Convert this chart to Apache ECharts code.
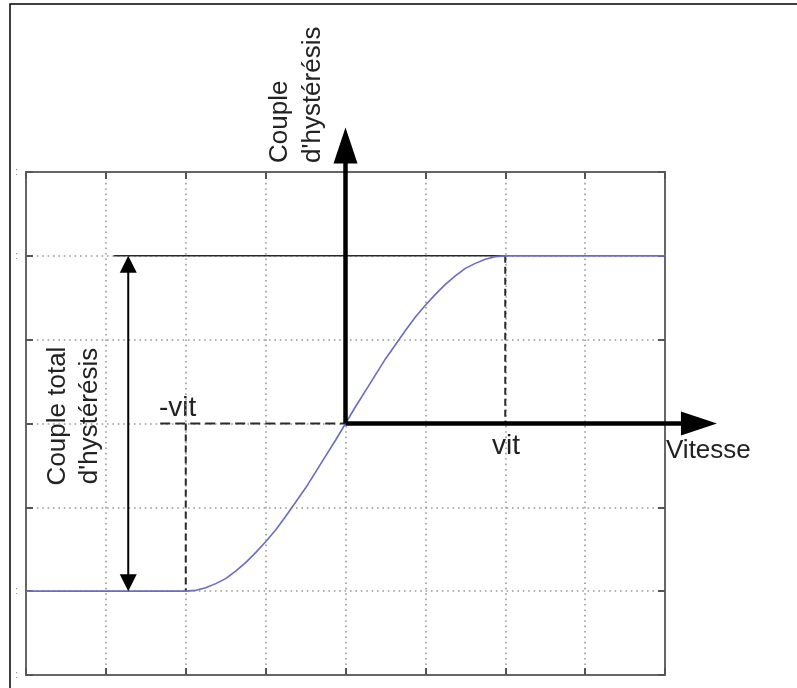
<!DOCTYPE html>
<html><head><meta charset="utf-8">
<script src="https://cdn.jsdelivr.net/npm/echarts@6/dist/echarts.min.js"></script>
<style>html,body{margin:0;padding:0;background:#fff}#c{width:797px;height:688px}</style>
</head><body><div id="c"></div>
<script>
// ---- data ----
const xRange = [-4, 4];
const yRange = [-3, 3];
const curveX = [-4, -2, -1.875, -1.75, -1.625, -1.5, -1.375, -1.25, -1.125, -1, -0.875, -0.75, -0.625, -0.5, -0.375, -0.25, -0.125, 0,
                0.125, 0.25, 0.375, 0.5, 0.625, 0.75, 0.875, 1, 1.125, 1.25, 1.375, 1.5, 1.625, 1.75, 1.875, 2, 4];
const curveY = [-2, -2, -1.99, -1.96, -1.91, -1.85, -1.76, -1.66, -1.54, -1.41, -1.27, -1.11, -0.94, -0.77, -0.58, -0.39, -0.2, 0,
                0.2, 0.39, 0.58, 0.77, 0.94, 1.11, 1.27, 1.41, 1.54, 1.66, 1.76, 1.85, 1.91, 1.96, 1.99, 2, 2];
// segments: [x1, y1, x2, y2]
const axisArrowV = [0, 0, 0, 3.53];
const axisArrowH = [0, 0, 4.65, 0];
const totalArrow = [-2.72, 2, -2.72, -2];
const guideTop = [-2.9, 2, 2, 2];
const guideVit = [2, 2, 2, 0];
const guideNegVit = [-2, 0, -2, -2];
const guideZero = [-2.32, 0, 0, 0];
const edgeMarks = [-3, -2, 2, 3];

const chart = echarts.init(document.getElementById('c'), null, {renderer: 'canvas'});

function segSeries(name, rows, style, heads, headLen, headHalf, z) {
  return {
    name: name, type: 'custom', z: z, clip: false, silent: true,
    encode: {x: [0, 2], y: [1, 3]},
    data: rows,
    renderItem: function (params, api) {
      const p1 = api.coord([api.value(0), api.value(1)]);
      const p2 = api.coord([api.value(2), api.value(3)]);
      const dx = p2[0] - p1[0], dy = p2[1] - p1[1];
      const len = Math.sqrt(dx * dx + dy * dy) || 1;
      const ux = dx / len, uy = dy / len, nx = -uy, ny = ux;
      let a = p1.slice(), b = p2.slice();
      const children = [];
      if (heads >= 1) {
        const bx = p2[0] - ux * headLen, by = p2[1] - uy * headLen;
        b = [bx + ux * 1, by + uy * 1];
        children.push({type: 'polygon', shape: {points: [p2, [bx + nx * headHalf, by + ny * headHalf], [bx - nx * headHalf, by - ny * headHalf]]}, style: {fill: style.stroke}});
      }
      if (heads >= 2) {
        const bx = p1[0] + ux * headLen, by = p1[1] + uy * headLen;
        a = [bx - ux * 1, by - uy * 1];
        children.push({type: 'polygon', shape: {points: [p1, [bx + nx * headHalf, by + ny * headHalf], [bx - nx * headHalf, by - ny * headHalf]]}, style: {fill: style.stroke}});
      }
      children.unshift({type: 'line', shape: {x1: a[0], y1: a[1], x2: b[0], y2: b[1]}, style: Object.assign({fill: null}, style)});
      return {type: 'group', children: children};
    }
  };
}

const axisCommon = {
  type: 'value',
  axisLine: {show: true, onZero: false, lineStyle: {color: '#666', width: 2}},
  axisTick: {show: true, inside: true, length: 7, lineStyle: {color: '#555', width: 2}},
  axisLabel: {show: false}
};
const gridLine = {show: true, lineStyle: {color: '#9a9a9a', width: 1.6, type: [1.6, 3.8]}};

const option = {
  animation: false,
  backgroundColor: '#fff',
  grid: {left: 26, top: 172, right: 132, bottom: 13, show: false},
  xAxis: [
    Object.assign({}, axisCommon, {min: xRange[0], max: xRange[1], interval: 1, position: 'bottom', splitLine: gridLine}),
    Object.assign({}, axisCommon, {min: xRange[0], max: xRange[1], interval: 1, position: 'top', splitLine: {show: false}})
  ],
  yAxis: [
    Object.assign({}, axisCommon, {min: yRange[0], max: yRange[1], interval: 1, position: 'left', splitLine: gridLine,
      axisLabel: {show: true, margin: 8, fontSize: 10, color: '#888', fontFamily: 'Liberation Sans',
        formatter: function (v) { return edgeMarks.indexOf(v) >= 0 ? ':' : ''; }}}),
    Object.assign({}, axisCommon, {min: yRange[0], max: yRange[1], interval: 1, position: 'right', splitLine: {show: false}})
  ],
  series: [
    segSeries('guideTop', [guideTop], {stroke: '#2a2a2a', lineWidth: 1.5}, 0, 0, 0, 3),
    segSeries('guideV', [guideVit, guideNegVit], {stroke: '#2a2a2a', lineWidth: 2, lineDash: [7, 4]}, 0, 0, 0, 3),
    segSeries('guideH', [guideZero], {stroke: '#2a2a2a', lineWidth: 2, lineDash: [10, 5]}, 0, 0, 0, 3),
    {
      name: 'couple', type: 'line', z: 4, showSymbol: false, silent: true,
      smooth: false,
      lineStyle: {color: '#6b6bc2', width: 1.6},
      data: curveX.map(function (x, i) { return [x, curveY[i]]; })
    },
    segSeries('total', [totalArrow], {stroke: '#000', lineWidth: 2}, 2, 17, 8.5, 5),
    segSeries('axes', [axisArrowV, axisArrowH], {stroke: '#000', lineWidth: 4.5}, 1, 36, 12, 6)
  ],
  graphic: [
    {type: 'polyline', shape: {points: [[10, 688], [10, 4], [797, 4]]}, style: {stroke: '#000', lineWidth: 1.5, fill: null}},
    {type: 'text', x: 280, y: 163, rotation: Math.PI / 2, style: {text: 'Couple', fontSize: 26, fontFamily: 'Liberation Sans', fill: '#222', align: 'left', verticalAlign: 'middle'}},
    {type: 'text', x: 313, y: 163, rotation: Math.PI / 2, style: {text: "d'hystérésis", fontSize: 26, fontFamily: 'Liberation Sans', fill: '#222', align: 'left', verticalAlign: 'middle'}},
    {type: 'text', x: 58, y: 416, rotation: Math.PI / 2, style: {text: 'Couple total', fontSize: 26, fontFamily: 'Liberation Sans', fill: '#222', align: 'center', verticalAlign: 'middle'}},
    {type: 'text', x: 90, y: 416, rotation: Math.PI / 2, style: {text: "d'hystérésis", fontSize: 26, fontFamily: 'Liberation Sans', fill: '#222', align: 'center', verticalAlign: 'middle'}},
    {type: 'text', x: 159, y: 408, style: {text: '-vit', fontSize: 28, fontFamily: 'Liberation Sans', fill: '#222', align: 'left', verticalAlign: 'middle'}},
    {type: 'text', x: 492, y: 446, style: {text: 'vit', fontSize: 28, fontFamily: 'Liberation Sans', fill: '#222', align: 'left', verticalAlign: 'middle'}},
    {type: 'text', x: 666, y: 451, style: {text: 'Vitesse', fontSize: 26, fontFamily: 'Liberation Sans', fill: '#222', align: 'left', verticalAlign: 'middle'}}
  ]
};
chart.setOption(option);
</script>
</body></html>
